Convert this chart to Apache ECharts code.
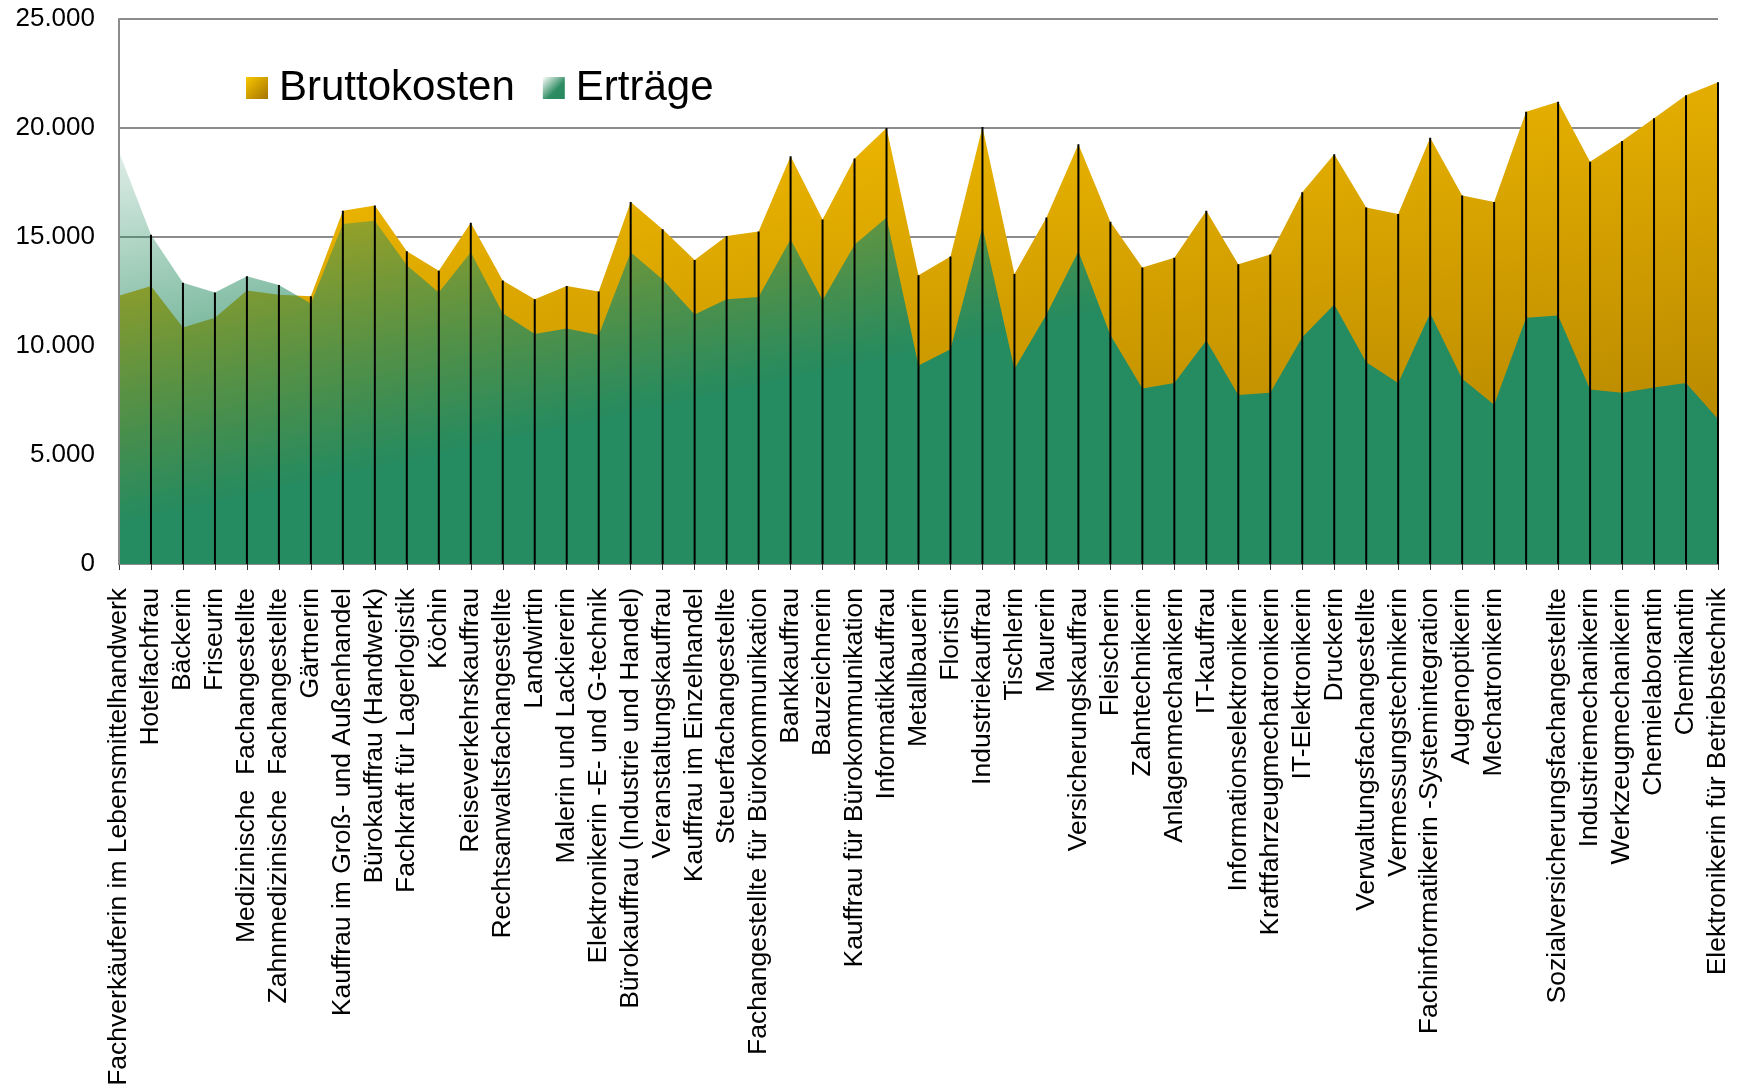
<!DOCTYPE html>
<html>
<head>
<meta charset="utf-8">
<title>Bruttokosten und Erträge</title>
<script src="https://cdn.jsdelivr.net/npm/echarts@6/dist/echarts.min.js"></script>
<style>
  html, body { margin: 0; padding: 0; background: #fff; }
  #main { width: 1737px; height: 1091px; }
</style>
</head>
<body>
<div id="main"></div>
<script>
// Ausbildungsberufe (eine Kategorie ohne Beschriftung, wie im Original)
var berufe = [
  'Fachverkäuferin im Lebensmittelhandwerk', 'Hotelfachfrau', 'Bäckerin', 'Friseurin',
  'Medizinische  Fachangestellte', 'Zahnmedizinische  Fachangestellte', 'Gärtnerin',
  'Kauffrau im Groß- und Außenhandel', 'Bürokauffrau (Handwerk)', 'Fachkraft für Lagerlogistik',
  'Köchin', 'Reiseverkehrskauffrau', 'Rechtsanwaltsfachangestellte', 'Landwirtin',
  'Malerin und Lackiererin', 'Elektronikerin -E- und G-technik', 'Bürokauffrau (Industrie und Handel)',
  'Veranstaltungskauffrau', 'Kauffrau im Einzelhandel', 'Steuerfachangestellte',
  'Fachangestellte für Bürokommunikation', 'Bankkauffrau', 'Bauzeichnerin',
  'Kauffrau für Bürokommunikation', 'Informatikkauffrau', 'Metallbauerin', 'Floristin',
  'Industriekauffrau', 'Tischlerin', 'Maurerin', 'Versicherungskauffrau', 'Fleischerin',
  'Zahntechnikerin', 'Anlagenmechanikerin', 'IT-kauffrau', 'Informationselektronikerin',
  'Kraftfahrzeugmechatronikerin', 'IT-Elektronikerin', 'Druckerin', 'Verwaltungsfachangestellte',
  'Vermessungstechnikerin', 'Fachinformatikerin -Systemintegration', 'Augenoptikerin',
  'Mechatronikerin', '', 'Sozialversicherungsfachangestellte', 'Industriemechanikerin',
  'Werkzeugmechanikerin', 'Chemielaborantin', 'Chemikantin', 'Elektronikerin für Betriebstechnik'
];

var bruttokosten = [
  12300, 12750, 10850, 11300, 12550, 12350, 12280, 16200, 16450, 14350,
  13450, 15650, 13000, 12150, 12750, 12500, 16600, 15350, 13950, 15050,
  15250, 18700, 15800, 18600, 20000, 13250, 14100, 20050, 13300, 15900,
  19250, 15700, 13600, 14050, 16200, 13750, 14200, 17050, 18800, 16350,
  16050, 19550, 16900, 16600, 20750, 21200, 18450, 19400, 20450, 21500,
  22100
];

var ertraege = [
  18900, 15100, 12900, 12450, 13200, 12800, 11950, 15600, 15750, 13700,
  12450, 14300, 11500, 10550, 10800, 10500, 14300, 13050, 11450, 12150,
  12250, 14900, 12100, 14650, 15900, 9100, 9850, 15450, 8950, 11450,
  14350, 10500, 8050, 8300, 10250, 7750, 7850, 10400, 11900, 9250,
  8300, 11500, 8500, 7300, 11300, 11400, 8000, 7850, 8100, 8300,
  6650
];

var yTicks = [0, 5000, 10000, 15000, 20000, 25000];

// Falllinien: vom höheren Wert bis zur Achse
var fallinien = bruttokosten.map(function (b, i) {
  return [i, Math.max(b, ertraege[i])];
});

var FONT = "'Liberation Sans', Arial, sans-serif";

var kostenFarbe = new echarts.graphic.LinearGradient(0, 0, 0.053, 1.47, [
  { offset: 0, color: '#FCC200' },
  { offset: 1, color: '#A27600' }
]);
var ertragFarbe = new echarts.graphic.LinearGradient(0, 0, 0.048, 0.864, [
  { offset: 0, color: 'rgba(37,139,96,0.15)' },
  { offset: 1, color: 'rgba(37,139,96,1)' }
]);

function tausender(v) {
  return String(v).replace(/\B(?=(\d{3})+(?!\d))/g, '.');
}

var chart = echarts.init(document.getElementById('main'), null, { renderer: 'canvas' });

var option = {
  animation: false,
  backgroundColor: '#fff',
  textStyle: { fontFamily: FONT },
  grid: { left: 119, right: 19, top: 19, bottom: 527, containLabel: false, outerBoundsMode: 'none' },
  legend: {
    left: 241,
    top: 62,
    icon: 'rect',
    itemWidth: 22,
    itemHeight: 22,
    itemGap: 28,
    textStyle: { fontSize: 42, color: '#000', fontFamily: FONT, padding: [0, 0, 0, 6] },
    data: [
      { name: 'Bruttokosten', itemStyle: { color: new echarts.graphic.LinearGradient(0, 0, 1, 1, [
        { offset: 0, color: '#F8C800' }, { offset: 1, color: '#A47200' }]) } },
      { name: 'Erträge', itemStyle: { color: new echarts.graphic.LinearGradient(0, 0, 1, 1, [
        { offset: 0, color: '#FFFFFF' }, { offset: 0.6, color: '#2E8C62' }, { offset: 1, color: '#24885C' }]) } }
    ]
  },
  xAxis: {
    type: 'category',
    data: berufe,
    boundaryGap: false,
    axisLine: { lineStyle: { color: '#8c8c8c', width: 2 } },
    axisTick: { show: true, length: 6, lineStyle: { color: '#333' } },
    axisLabel: {
      interval: 0,
      rotate: 90,
      margin: 24,
      fontSize: 26.5,
      color: '#000',
      fontFamily: FONT
    }
  },
  yAxis: [
    {
      type: 'value',
      min: yTicks[0],
      max: yTicks[yTicks.length - 1],
      interval: 5000,
      axisLine: { show: false },
      axisTick: { show: false },
      splitLine: { lineStyle: { color: '#8c8c8c', width: 2 } },
      axisLabel: {
        fontSize: 26,
        color: '#000',
        margin: 24,
        fontFamily: FONT,
        formatter: function (v) { return tausender(v); }
      }
    },
    {
      // nur die linke Achsenlinie, über den Falllinien
      type: 'value',
      position: 'left',
      min: yTicks[0],
      max: yTicks[yTicks.length - 1],
      z: 6,
      axisLine: { show: true, lineStyle: { color: '#8c8c8c', width: 2 } },
      axisTick: { show: false },
      axisLabel: { show: false },
      splitLine: { show: false }
    }
  ],
  series: [
    {
      name: 'Bruttokosten',
      type: 'line',
      data: bruttokosten,
      symbol: 'none',
      lineStyle: { width: 0 },
      itemStyle: { color: '#E8B000' },
      areaStyle: { color: kostenFarbe, opacity: 1 },
      emphasis: { disabled: true },
      z: 2
    },
    {
      name: 'Erträge',
      type: 'line',
      data: ertraege,
      symbol: 'none',
      lineStyle: { width: 0 },
      itemStyle: { color: '#25885E' },
      areaStyle: { color: ertragFarbe, opacity: 1 },
      emphasis: { disabled: true },
      z: 3
    },
    {
      name: 'Falllinien',
      type: 'custom',
      data: fallinien,
      silent: true,
      z: 5,
      encode: { x: 0, y: 1 },
      renderItem: function (params, api) {
        var oben = api.coord([api.value(0), api.value(1)]);
        var unten = api.coord([api.value(0), 0]);
        return {
          type: 'line',
          shape: { x1: oben[0], y1: oben[1], x2: unten[0], y2: unten[1] },
          style: { stroke: '#000', lineWidth: 2 }
        };
      }
    }
  ]
};

chart.setOption(option);
</script>
</body>
</html>
